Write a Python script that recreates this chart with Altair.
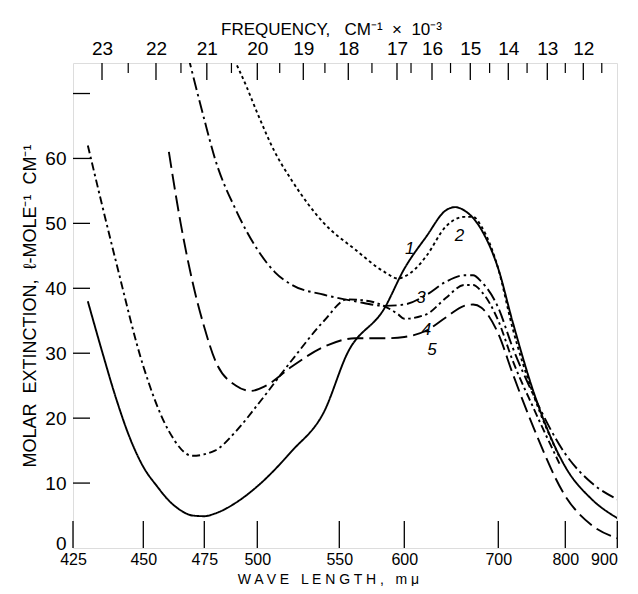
import altair as alt
import pandas as pd

# ---------------- data ----------------
wl1 = [430, 435, 440, 445, 450, 455, 460, 465, 470, 475, 480, 490, 500, 520, 540, 555, 580, 600, 620, 640, 650, 660, 680, 700, 720, 750, 800, 850, 900]
v1 = [38, 30, 23, 17, 12.5, 9.5, 7.3, 5.8, 5.0, 4.9, 5.3, 7, 9.5, 15, 21, 30, 37, 43, 48, 52, 52.5, 52, 49, 43, 35, 24, 12.5, 7.5, 4.6]

wl2 = [488, 495, 500, 510, 520, 540, 560, 580, 590, 600, 610, 620, 640, 660, 670, 680, 700, 720, 750, 790]
v2 = [76, 71, 67, 61, 56.5, 50, 46, 42.5, 41.5, 41.8, 43, 45, 49.5, 51, 51, 49.5, 43, 34, 23.5, 14]

wl3 = [468, 475, 480, 490, 500, 510, 520, 540, 560, 580, 600, 620, 640, 660, 670, 680, 700, 720, 750, 800, 850, 900]
v3 = [76, 66, 60, 52, 46, 42.5, 40.5, 39, 38, 37.3, 37.5, 39, 41, 42, 42, 41, 37, 31, 23.5, 14.5, 10, 7.5]

wl4 = [430, 440, 450, 460, 470, 480, 490, 500, 520, 540, 555, 570, 590, 600, 620, 640, 660, 670, 680, 700, 720, 750, 790]
v4 = [62, 44, 28, 18, 14.2, 15, 18, 22, 29, 35, 38.3, 38, 36, 35.3, 36, 38.5, 40.5, 40.5, 39.5, 35, 29, 21.5, 13]

wl5 = [460, 465, 470, 475, 480, 490, 497, 505, 520, 540, 560, 580, 600, 620, 640, 660, 670, 680, 700, 720, 750, 800, 850, 900]
v5 = [61, 50, 41, 34, 29, 25, 24.2, 25, 28, 31, 32.3, 32.3, 32.5, 33.5, 35.5, 37.3, 37.5, 37, 33, 27, 18.5, 8, 3.5, 1.5]

curve_names = ["1", "2", "3", "4", "5"]
label_wl = [605, 655, 615, 620, 625]
label_v = [46, 48, 38.5, 33.5, 30.5]

bottom_ticks = [425, 450, 475, 500, 550, 600, 700, 800, 900]
top_major = [23, 22, 21, 20, 19, 18, 17, 16, 15, 14, 13, 12]
top_minor = [22.5, 21.5, 20.5, 19.5, 18.5, 17.5, 16.5, 15.5, 14.5, 13.5, 12.5, 11.5]
y_labels = [0, 10, 20, 30, 40, 50, 60]
y_ticks = [10, 20, 30, 40, 50, 60, 70]

# ---------------- layout ----------------
W, H = 544, 485
FONT = "Liberation Sans"
NB = "\u00a0"

knot_wl = [425, 434.78, 450, 454.55, 475, 500, 526.32, 550, 555.56, 588.24, 600, 625,
           666.67, 700, 714.29, 769.23, 800, 833.33, 900]
knot_px = [0, 29, 70.3, 83, 131.3, 184.3, 230.3, 266.3, 275.3, 324, 331.3, 359,
           397.3, 425.3, 435.3, 474.3, 492.3, 510.3, 544.3]

xs = alt.Scale(domain=knot_wl, range=knot_px, nice=False, zero=False)
ys = alt.Scale(domain=[0, 74.7], nice=False, zero=False)

dashes = {"1": [1, 0], "2": [3, 3], "3": [13, 4, 2.5, 4], "4": [8, 3.5, 2.5, 3.5], "5": [16, 6]}
series = {"1": (wl1, v1), "2": (wl2, v2), "3": (wl3, v3), "4": (wl4, v4), "5": (wl5, v5)}

x_title = f"W A V E{NB}{NB} L E N G T H ,{NB}{NB} m μ"
y_title = f"MOLAR{NB} EXTINCTION,{NB} ℓ-MOLE⁻¹{NB} CM⁻¹"
top_title = f"FREQUENCY,{NB}{NB} CM⁻¹{NB} ×{NB} 10⁻³"

layers = []
first = True
for name in curve_names:
    wl, v = series[name]
    df = pd.DataFrame({"wl": wl, "v": v})
    if first:
        xenc = alt.X("wl:Q", scale=xs, axis=alt.Axis(
            values=bottom_ticks, format="d", ticks=False, domain=False, grid=False,
            labelFont=FONT, labelFontSize=16, labelColor="black", labelPadding=3,
            labelAlign={"expr": "datum.value >= 900 ? 'right' : 'center'"},
            title=x_title, titleFont=FONT, titleFontSize=14,
            titleFontWeight="normal", titleColor="black", titleX=255, titleY=35,
            titleBaseline="alphabetic", labelFlush=False))
        yenc = alt.Y("v:Q", scale=ys, axis=alt.Axis(
            values=y_labels, ticks=False, domain=False, grid=False,
            labelFont=FONT, labelFontSize=19, labelColor="black", labelPadding=7,
            labelOffset={"expr": "datum.value == 0 ? -5 : 0"},
            title=y_title, titleFont=FONT, titleFontSize=18,
            titleFontWeight="normal", titleColor="black", titlePadding=5))
        first = False
    else:
        xenc = alt.X("wl:Q", scale=xs, axis=None)
        yenc = alt.Y("v:Q", scale=ys, axis=None)
    layers.append(
        alt.Chart(df).mark_line(color="black", strokeWidth=1.9, strokeDash=dashes[name],
                                interpolate="monotone", clip=True)
        .encode(x=xenc, y=yenc)
    )

# curve labels
lab_df = pd.DataFrame({"wl": label_wl, "v": label_v, "t": curve_names})
layers.append(
    alt.Chart(lab_df).mark_text(font=FONT, fontSize=17, fontStyle="italic", color="black")
    .encode(x=alt.X("wl:Q", scale=xs, axis=None), y=alt.Y("v:Q", scale=ys, axis=None),
            text="t:N")
)

# bottom inward ticks
bt = pd.DataFrame({"wl": bottom_ticks})
layers.append(
    alt.Chart(bt).mark_rule(color="black", strokeWidth=1.3)
    .encode(x=alt.X("wl:Q", scale=xs, axis=None), y=alt.value(H), y2=alt.value(H - 27))
)

# top ticks (frequency axis)
tmaj = pd.DataFrame({"wl": [10000.0 / f for f in top_major]})
tmin = pd.DataFrame({"wl": [10000.0 / f for f in top_minor]})
layers.append(
    alt.Chart(tmaj).mark_rule(color="black", strokeWidth=1.3)
    .encode(x=alt.X("wl:Q", scale=xs, axis=alt.Axis(
        orient="top", values=[10000.0 / f for f in top_major],
        labelExpr="format(10000 / datum.value, '.0f')", ticks=False, domain=False,
        grid=False, labelFont=FONT, labelFontSize=19, labelColor="black", labelPadding=5,
        title=top_title, titleFont=FONT, titleFontSize=17, titleX=258,
        titleFontWeight="normal", titleColor="black", titlePadding=1, labelFlush=False)),
        y=alt.value(0), y2=alt.value(17))
)
layers.append(
    alt.Chart(tmin).mark_rule(color="black", strokeWidth=1.2)
    .encode(x=alt.X("wl:Q", scale=xs, axis=None), y=alt.value(0), y2=alt.value(10))
)

# left inward ticks
yt = pd.DataFrame({"v": y_ticks})
layers.append(
    alt.Chart(yt).mark_rule(color="black", strokeWidth=1.3)
    .encode(y=alt.Y("v:Q", scale=ys, axis=None), x=alt.value(0), x2=alt.value(17))
)

chart = (
    alt.layer(*layers)
    .resolve_axis(x="independent", y="independent")
    .properties(width=W, height=H,
                autosize=alt.AutoSizeParams(type="none"),
                padding={"left": 65, "top": 55, "right": 13, "bottom": 38})
    .configure_view(stroke="black", strokeWidth=2)
    .configure(background="white")
)

chart.save("out.html", embed_options={"renderer": "svg", "actions": False})
